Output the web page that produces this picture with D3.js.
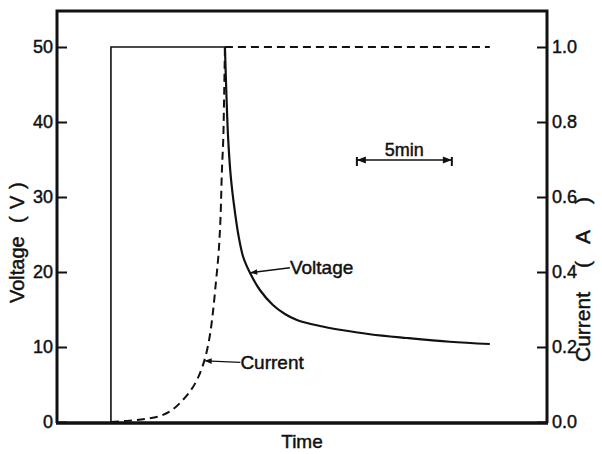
<!DOCTYPE html>
<html><head><meta charset="utf-8">
<script src="https://cdnjs.cloudflare.com/ajax/libs/d3/7.8.5/d3.min.js"></script>
<style>
body{margin:0;background:#fff;}
text{font-family:"Liberation Sans",Arial,sans-serif;fill:#111;stroke:#111;stroke-width:0.45px;}
</style></head><body>
<svg id="c" width="602" height="454"></svg>
<script>
// Time in minutes (arbitrary origin)
const voltageTime = [2.84, 2.84, 8.842, 8.921, 9.016, 9.158, 9.332, 9.553, 9.805, 10.158, 10.684, 11.368, 12.0, 12.632, 13.842, 14.895, 16.474, 18.421, 20.684, 22.789];
const voltageValues = [0, 50, 50, 43.6, 37.6, 32.5, 28.7, 24.9, 22.0, 19.9, 17.6, 15.6, 14.4, 13.6, 12.8, 12.3, 11.7, 11.2, 10.7, 10.4];
const currentTime = [2.842, 3.684, 4.632, 5.421, 6.053, 6.632, 7.053, 7.368, 7.632, 7.842, 8.053, 8.211, 8.368, 8.5, 8.605, 8.684, 8.753, 8.805, 8.842, 22.789];
const currentValues = [0, 0.003, 0.008, 0.016, 0.032, 0.059, 0.085, 0.112, 0.144, 0.179, 0.232, 0.293, 0.373, 0.445, 0.539, 0.672, 0.752, 0.885, 1.0, 1.0];
const voltageTicks = [0, 10, 20, 30, 40, 50];
const currentTicks = [0.0, 0.2, 0.4, 0.6, 0.8, 1.0];

const svg = d3.select("#c");
const L = 57, R = 547, T = 11, B = 422;
const x = d3.scaleLinear().domain([0, 25.8]).range([L, R]);
const yV = d3.scaleLinear().domain([0, 54.8]).range([B, T]);
const yA = d3.scaleLinear().domain([0, 1.096]).range([B, T]);

// axes
const gl = svg.append("g").attr("transform", `translate(${L},0)`)
  .call(d3.axisLeft(yV).tickValues(voltageTicks).tickFormat(d3.format("d")).tickSize(-10).tickSizeOuter(0).tickPadding(4));
const gr = svg.append("g").attr("transform", `translate(${R},0)`)
  .call(d3.axisRight(yA).tickValues(currentTicks).tickFormat(d3.format(".1f")).tickSize(-10).tickSizeOuter(0).tickPadding(5));
[gl, gr].forEach(g => {
  g.select(".domain").remove();
  g.selectAll(".tick line").attr("stroke", "#111").attr("stroke-width", 2);
  g.selectAll(".tick text").attr("font-size", 18).attr("fill", "#111")
    .attr("font-family", "'Liberation Sans',Arial,sans-serif");
});

// frame
svg.append("path")
  .attr("d", `M${L},${B+1}V${T}H${R}V${B+1}`)
  .attr("fill", "none").attr("stroke", "#111").attr("stroke-width", 3);
svg.append("line").attr("x1", L - 1).attr("x2", R + 1).attr("y1", B + 1).attr("y2", B + 1)
  .attr("stroke", "#111").attr("stroke-width", 3.5);

// voltage
const vData = voltageTime.map((t, i) => [t, voltageValues[i]]);
const lineLin = d3.line().x(d => x(d[0])).y(d => yV(d[1]));
svg.append("path").datum(vData.slice(0, 3)).attr("d", lineLin)
  .attr("fill", "none").attr("stroke", "#111").attr("stroke-width", 1.6);
svg.append("path").datum(vData.slice(2))
  .attr("d", d3.line().x(d => x(d[0])).y(d => yV(d[1])).curve(d3.curveCatmullRom.alpha(0.5)))
  .attr("fill", "none").attr("stroke", "#111").attr("stroke-width", 2.2);

// current
const cData = currentTime.map((t, i) => [t, currentValues[i]]);
svg.append("path").datum(cData.slice(0, cData.length - 1))
  .attr("d", d3.line().x(d => x(d[0])).y(d => yA(d[1])).curve(d3.curveCatmullRom.alpha(0.5)))
  .attr("fill", "none").attr("stroke", "#111").attr("stroke-width", 2)
  .attr("stroke-dasharray", "8,5");
svg.append("path").datum(cData.slice(cData.length - 2))
  .attr("d", d3.line().x(d => x(d[0])).y(d => yA(d[1])))
  .attr("fill", "none").attr("stroke", "#111").attr("stroke-width", 2)
  .attr("stroke-dasharray", "8,5");

// arrowhead marker
const defs = svg.append("defs");
defs.append("marker").attr("id", "ah").attr("viewBox", "0 0 10 10")
  .attr("refX", 9).attr("refY", 5).attr("markerWidth", 9).attr("markerHeight", 7)
  .attr("markerUnits", "userSpaceOnUse").attr("orient", "auto")
  .append("path").attr("d", "M0,1L10,5L0,9Z").attr("fill", "#111");

// annotations
const vx = 10.158, vy = 19.9;
svg.append("line").attr("x1", x(vx) + 40).attr("y1", yV(vy) - 5).attr("x2", x(vx) + 1).attr("y2", yV(vy))
  .attr("stroke", "#111").attr("stroke-width", 1.5).attr("marker-end", "url(#ah)");
svg.append("text").attr("x", x(vx) + 40).attr("y", yV(vy) + 1).attr("font-size", 19).text("Voltage");

const cx = 7.76, cy = 0.163;
svg.append("line").attr("x1", x(cx) + 36).attr("y1", yA(cy) + 1.5).attr("x2", x(cx) + 1).attr("y2", yA(cy))
  .attr("stroke", "#111").attr("stroke-width", 1.5).attr("marker-end", "url(#ah)");
svg.append("text").attr("x", x(cx) + 36).attr("y", yA(cy) + 8).attr("font-size", 19).text("Current");

// 5 min scale bar
const s0 = 15.79, s1 = 20.79, sy = 160;
svg.append("line").attr("x1", x(s0)).attr("x2", x(s1)).attr("y1", sy).attr("y2", sy)
  .attr("stroke", "#111").attr("stroke-width", 1.5);
[s0, s1].forEach((s, i) => {
  svg.append("line").attr("x1", x(s)).attr("x2", x(s)).attr("y1", sy - 3).attr("y2", sy + 6)
    .attr("stroke", "#111").attr("stroke-width", 2);
  const dir = i === 0 ? 1 : -1;
  svg.append("path").attr("d", `M${x(s)},${sy}l${dir*9},-3.5v7Z`).attr("fill", "#111");
});
svg.append("text").attr("x", (x(s0) + x(s1)) / 2).attr("y", sy - 4).attr("text-anchor", "middle")
  .attr("font-size", 18).text("5min");

// axis titles
const lt = svg.append("text").attr("transform", `translate(24,303) rotate(-90)`).attr("font-size", 20);
lt.append("tspan").attr("x", 0).text("Voltage");
lt.append("tspan").attr("x", 80).text("(");
lt.append("tspan").attr("x", 94).text("V");
lt.append("tspan").attr("x", 114).text(")");
const rt = svg.append("text").attr("transform", `translate(590,362) rotate(-90)`).attr("font-size", 21);
rt.append("tspan").attr("x", 0).text("Current");
rt.append("tspan").attr("x", 94).text("(");
rt.append("tspan").attr("x", 118).text("A");
rt.append("tspan").attr("x", 158).text(")");
svg.append("text").attr("x", 302).attr("y", 448).attr("text-anchor", "middle")
  .attr("font-size", 19).text("Time");
</script>
</body></html>
